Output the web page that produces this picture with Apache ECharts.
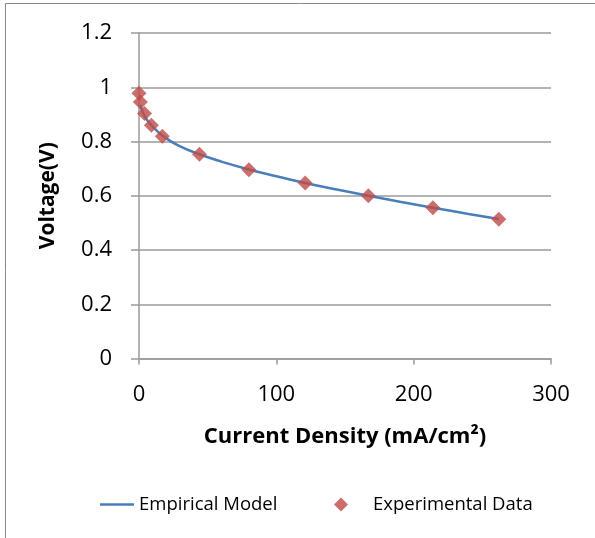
<!DOCTYPE html>
<html>
<head>
<meta charset="utf-8">
<script src="https://cdn.jsdelivr.net/npm/echarts@6/dist/echarts.min.js"></script>
<style>
html,body{margin:0;padding:0;background:#fff;}
#chart{width:595px;height:538px;}
</style>
</head>
<body>
<div id="chart"></div>
<script>
// Experimental data (current density mA/cm², voltage V)
var expX = [0, 1, 4, 9, 17, 44, 80, 121, 167, 214, 262];
var expY = [0.978, 0.946, 0.903, 0.860, 0.819, 0.753, 0.696, 0.647, 0.600, 0.556, 0.513];
// Empirical model curve
var modelX = [1, 3, 6, 10, 18, 30, 44, 60, 80, 100, 121, 145, 167, 190, 214, 240, 262];
var modelY = [0.935, 0.905, 0.878, 0.855, 0.818, 0.782, 0.753, 0.726, 0.697, 0.672, 0.647, 0.622, 0.600, 0.578, 0.556, 0.533, 0.514];
var xTicks = [0, 100, 200, 300];
var yTicks = [0, 0.2, 0.4, 0.6, 0.8, 1, 1.2];

var font = '"Open Sans", sans-serif';
var chart = echarts.init(document.getElementById('chart'), null, {renderer: 'canvas'});
chart.setOption({
  backgroundColor: '#ffffff',
  animation: false,
  graphic: [{
    type: 'rect',
    shape: {x: 5.5, y: 3.5, width: 800, height: 800},
    style: {fill: 'none', stroke: '#898989', lineWidth: 1},
    silent: true, z: -10
  }],
  grid: {left: 139, right: 44, top: 33, bottom: 179.5, containLabel: false},
  xAxis: {
    type: 'value', min: 0, max: 300, interval: 100,
    name: 'Current Density (mA/cm²)',
    nameLocation: 'middle', nameGap: 67,
    nameTextStyle: {fontFamily: font, fontSize: 22, fontWeight: 'bold', color: '#000'},
    axisLine: {show: true, onZero: false, lineStyle: {color: '#9a9a9a', width: 1.5}},
    axisTick: {show: true, inside: false, length: 6, lineStyle: {color: '#9a9a9a', width: 1.5}},
    axisLabel: {fontFamily: font, fontSize: 22, color: '#000', margin: 25,
      formatter: function (v) { return xTicks.indexOf(v) >= 0 ? String(v) : ''; }},
    splitLine: {show: false}
  },
  yAxis: {
    type: 'value', min: 0, max: 1.2, interval: 0.2,
    name: 'Voltage(V)',
    nameLocation: 'middle', nameGap: 80, nameRotate: 90,
    nameTextStyle: {fontFamily: font, fontSize: 21, fontWeight: 'bold', color: '#000'},
    axisLine: {show: true, lineStyle: {color: '#9a9a9a', width: 1.5}},
    axisTick: {show: true, inside: false, length: 8, lineStyle: {color: '#9a9a9a', width: 1.5}},
    axisLabel: {fontFamily: font, fontSize: 22, color: '#000', margin: 27,
      formatter: function (v) {
        var r = Math.round(v * 10) / 10;
        for (var i = 0; i < yTicks.length; i++) if (Math.abs(yTicks[i] - r) < 1e-9) return String(yTicks[i]);
        return '';
      }},
    splitLine: {show: true, lineStyle: {color: '#9a9a9a', width: 1.5}}
  },
  legend: [{
    left: 100, top: 495, padding: 0,
    data: [{name: 'Empirical Model', icon: 'rect'}],
    itemWidth: 34, itemHeight: 2.5, itemGap: 10,
    textStyle: {fontFamily: font, fontSize: 18.5, color: '#000'}
  }, {
    left: 334, top: 495, padding: 0,
    data: [{name: 'Experimental Data', icon: 'diamond'}],
    itemWidth: 14, itemHeight: 14,
    textStyle: {fontFamily: font, fontSize: 18.5, color: '#000', padding: [0, 0, 0, 20]}
  }],
  series: [{
    name: 'Empirical Model',
    type: 'line',
    data: modelX.map(function (x, i) { return [x, modelY[i]]; }),
    smooth: true,
    showSymbol: false,
    symbol: 'none',
    lineStyle: {color: '#4a7ebb', width: 2.5},
    itemStyle: {color: '#4a7ebb'},
    z: 2
  }, {
    name: 'Experimental Data',
    type: 'scatter',
    data: expX.map(function (x, i) { return [x, expY[i]]; }),
    symbol: 'diamond',
    symbolSize: 15,
    itemStyle: {color: '#be4b48'},
    z: 3
  }]
});
</script>
</body>
</html>
